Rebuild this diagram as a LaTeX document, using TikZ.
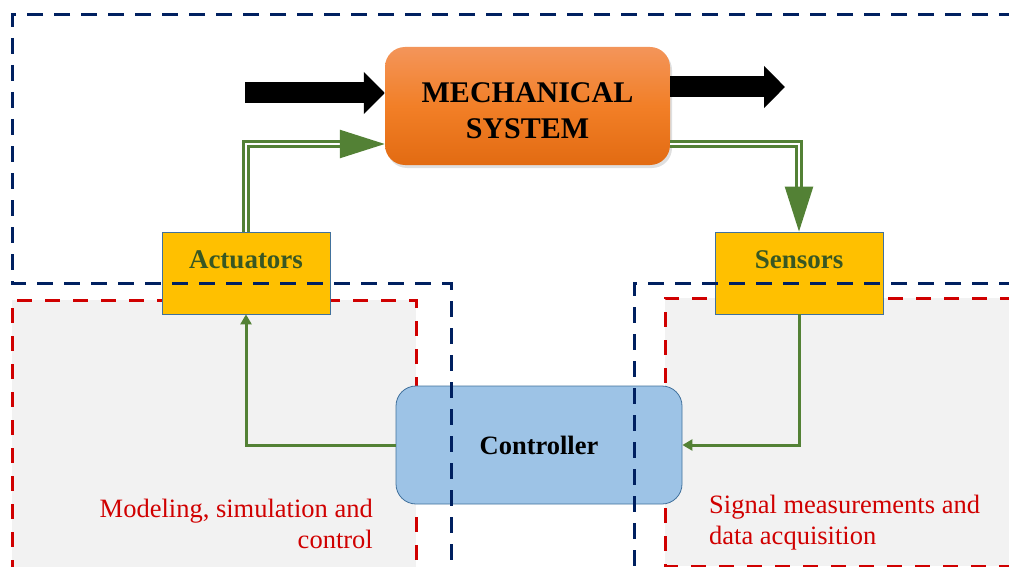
\documentclass[tikz,border=0pt]{standalone}
\usepackage{fontspec}
\setmainfont{Liberation Serif}
\usetikzlibrary{arrows.meta,shadows}

\definecolor{navyline}{HTML}{002060}
\definecolor{redline}{HTML}{D00000}
\definecolor{greyfill}{HTML}{F2F2F2}
\definecolor{leaf}{HTML}{538135}
\definecolor{leafdark}{HTML}{385723}
\definecolor{boxedge}{HTML}{41719C}
\definecolor{amber}{HTML}{FFC000}
\definecolor{skyblue}{HTML}{9DC3E6}
\definecolor{orangetop}{HTML}{F3955A}
\definecolor{orangemid}{HTML}{F27F27}
\definecolor{orangebot}{HTML}{E26B12}

\tikzset{
  ybox/.style={draw=boxedge, line width=0.8pt, fill=amber, inner sep=0pt,
    minimum width=168pt, minimum height=82pt, text=leafdark,
    text height=0pt, text depth=10pt,
    font=\fontsize{27}{32}\selectfont\bfseries},
  ctrlbox/.style={draw=boxedge, line width=0.8pt, fill=skyblue, rounded corners=20pt,
    inner sep=0pt, minimum width=286pt, minimum height=118pt,
    font=\fontsize{26.5}{32}\selectfont\bfseries},
  mechbox/.style={rounded corners=20pt, top color=orangetop, bottom color=orangebot,
    middle color=orangemid, inner sep=0pt, minimum width=285pt, minimum height=118pt,
    align=center, text height=66pt, text depth=0pt,
    font=\fontsize{30}{36}\selectfont\bfseries,
    drop shadow={opacity=0.25, shadow xshift=2pt, shadow yshift=-3pt}},
  bigarrow/.style={line width=21pt, -{Triangle[length=21pt,width=41pt]}},
  dblarrow/.style={draw=leaf, line width=2.4pt, double=white, double distance=2.4pt,
    -{Triangle[length=45pt,width=28pt]}},
  sigarrow/.style={draw=leaf, line width=3pt, -{Triangle[length=10pt,width=11pt]}},
  redzone/.style={redline, line width=3pt, dash pattern=on 15pt off 13pt},
  bluezone/.style={navyline, line width=3pt, dash pattern=on 16pt off 11pt},
  note/.style={text=redline, inner sep=0pt, font=\fontsize{26.5}{31}\selectfont}
}

\begin{document}
\begin{tikzpicture}[x=1pt,y=-1pt]
  \useasboundingbox (0,0) rectangle (1009,567);

  % grey zones
  \fill[greyfill] (12,300) rectangle (416,575);
  \fill[greyfill] (665,298) rectangle (1015,566);
  \draw[redzone] (12,575) -- (12,300) -- (416,300) -- (416,575);
  \draw[redzone] (1015,298) -- (665,298) -- (665,566) -- (1015,566);

  % blocks
  \node[mechbox] (mech) at (527.5,106) {MECHANICAL\\SYSTEM};
  \node[ybox] (act) at (246,273) {Actuators};
  \node[ybox] (sens) at (799,273) {Sensors};
  \node[ctrlbox] (ctrl) at (539,445) {Controller};

  % labels
  \node[note, anchor=base east, align=right] (model) at (373,548) {Modeling, simulation and\\control};
  \node[note, anchor=base west, align=left] (signal) at (709,544) {Signal measurements and\\data acquisition};

  % energy flow
  \coordinate (in) at (245,93);
  \coordinate (out) at (785,87);
  \draw[bigarrow] (in) -- (in -| mech.west);
  \draw[bigarrow] (mech.east |- out) -- (out);

  % loop
  \draw[dblarrow] (act.north) |- ([yshift=-38pt]mech.west);
  \draw[dblarrow] ([yshift=-38pt]mech.east) -| (sens.north);
  \draw[sigarrow] (sens.south) |- (ctrl.east);
  \draw[sigarrow] (ctrl.west) -| (act.south);

  % system boundary
  \draw[bluezone] (1015,15) -- (12,15) -- (12,283) -- (451,283) -- (451,575);
  \draw[bluezone] (1015,283) -- (634,283) -- (634,575);
\end{tikzpicture}
\end{document}
